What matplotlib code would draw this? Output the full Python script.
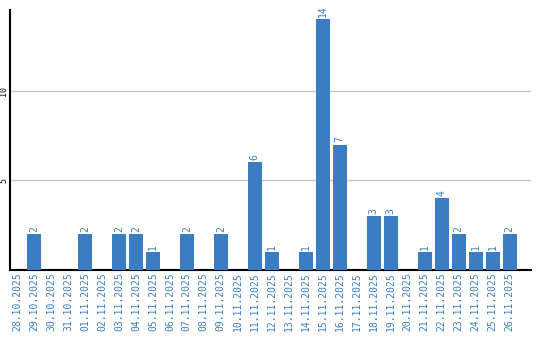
import matplotlib
matplotlib.use("Agg")
import matplotlib.pyplot as plt

# datos
fechas = ["28.10.2025", "29.10.2025", "30.10.2025", "31.10.2025", "01.11.2025",
          "02.11.2025", "03.11.2025", "04.11.2025", "05.11.2025", "06.11.2025",
          "07.11.2025", "08.11.2025", "09.11.2025", "10.11.2025", "11.11.2025",
          "12.11.2025", "13.11.2025", "14.11.2025", "15.11.2025", "16.11.2025",
          "17.11.2025", "18.11.2025", "19.11.2025", "20.11.2025", "21.11.2025",
          "22.11.2025", "23.11.2025", "24.11.2025", "25.11.2025", "26.11.2025"]
valores = [0, 2, 0, 0, 2, 0, 2, 2, 1, 0, 2, 0, 2, 0, 6,
           1, 0, 1, 14, 7, 0, 3, 3, 0, 1, 4, 2, 1, 1, 2]
yticks = [5, 10]

AZUL = "#3b7dc2"
FUENTE = "DejaVu Sans Mono"

fig = plt.figure(figsize=(5.4, 3.4), dpi=100)
ax = fig.add_axes([0.0194, 0.206, 0.9636, 0.764])

x = list(range(len(valores)))
ax.bar(x, valores, width=0.82, color=AZUL, zorder=3)

for xi, v in zip(x, valores):
    if v > 0:
        ax.text(xi, v + 0.12, str(v), rotation=90, ha="center", va="bottom",
                color=AZUL, fontsize=7, family=FUENTE)

ax.set_xlim(-0.38, 30.24)
ax.set_ylim(0, 14.5)
ax.set_xticks(x)
ax.set_xticklabels(fechas, rotation=90, color=AZUL, fontsize=7, family=FUENTE)
ax.set_yticks(yticks)
ax.set_yticklabels([str(t) for t in yticks], rotation=90, va="center",
                   fontsize=6, family=FUENTE)
ax.tick_params(axis="both", length=0, pad=1.5)
ax.grid(axis="y", color="#c8c8c8", linewidth=1, zorder=0)

for lado in ("top", "right"):
    ax.spines[lado].set_visible(False)
ax.spines["left"].set_linewidth(1.5)
ax.spines["bottom"].set_linewidth(1.5)

plt.savefig("out.png", dpi=100)
plt.close()
